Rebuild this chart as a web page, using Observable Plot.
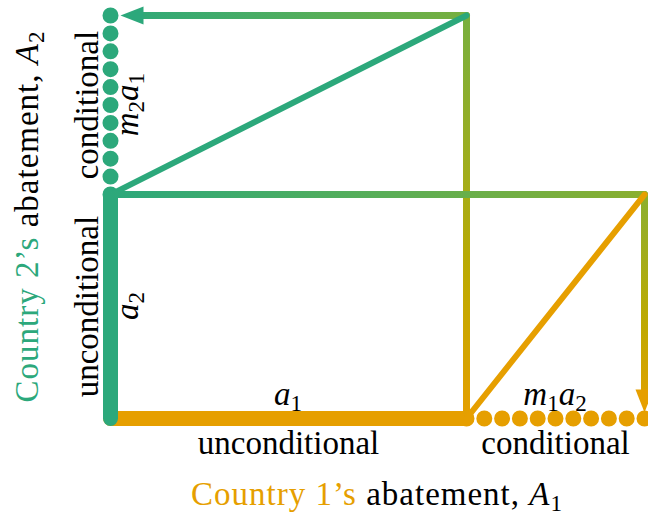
<!DOCTYPE html>
<html><head><meta charset="utf-8">
<script src="https://cdn.jsdelivr.net/npm/d3@7"></script>
<script src="https://cdn.jsdelivr.net/npm/@observablehq/plot@0.6"></script>
<style>body{margin:0;background:#fff}</style>
</head><body><div id="chart"></div><script>
// ---- data ----
const countries = ["Country 1’s", "Country 2’s"];
const axisWords = " abatement, ";
const axisSymbols = ["A", "A"];
const indices = ["1", "2"];
const kinds = ["unconditional", "conditional"];
const unconditional = [2, 1.25];   // a1, a2
const multipliers = [0.8, 0.5];    // m1, m2
const unconditionalSymbols = [[["a", "1"]], [["a", "2"]]];
const conditionalSymbols = [[["m", "1"], ["a", "2"]], [["m", "2"], ["a", "1"]]];

// ---- styles ----
const orange = "#e69f00", green = "#2ca87b";
const font = "Liberation Serif";
const fs = 33;

// ---- derived ----
const [a1, a2] = unconditional;
const [m1, m2] = multipliers;
const c1 = m1 * a2, c2 = m2 * a1;
const X = a1 + c1, Y = a2 + c2;
const ramp = d3.interpolateHcl(orange, green);

const gradients = [
  {id: "gA1", x1: a1, y1: 0, x2: a1, y2: Y, from: 0, to: 0.55},
  {id: "gA2", x1: a1, y1: Y, x2: 0, y2: Y, from: 0.55, to: 1},
  {id: "gB1", x1: 0, y1: a2, x2: X, y2: a2, from: 1, to: 0.45},
  {id: "gB2", x1: X, y1: a2, x2: X, y2: 0, from: 0.45, to: 0}
];

function defsMark(index, scales) {
  const {x, y} = scales;
  const defs = d3.create("svg:defs");
  for (const g of gradients) {
    const lg = defs.append("linearGradient").attr("id", g.id).attr("gradientUnits", "userSpaceOnUse")
      .attr("x1", x(g.x1)).attr("y1", y(g.y1)).attr("x2", x(g.x2)).attr("y2", y(g.y2));
    for (let k = 0; k <= 10; ++k)
      lg.append("stop").attr("offset", k / 10).attr("stop-color", ramp(g.from + (g.to - g.from) * k / 10));
  }
  return defs.node();
}

function rich(parent, parts, px, py, rotate) {
  const t = parent.append("text")
    .attr("transform", `translate(${px},${py}) rotate(${rotate})`)
    .attr("text-anchor", "middle")
    .attr("font-family", font);
  let shifted = false;
  for (const p of parts) {
    const s = t.append("tspan").text(p.text);
    if (p.italic) s.attr("font-style", "italic");
    if (p.color) s.attr("fill", p.color);
    if (p.sub) {
      s.attr("font-size", "0.7em");
      if (!shifted) { s.attr("dy", 6); shifted = true; }
    } else if (shifted) { s.attr("dy", -6); shifted = false; }
  }
  return t;
}
function mathParts(sym) {
  return sym.flatMap(([v, i]) => [{text: v, italic: true}, {text: i, sub: true}]);
}

function labelsMark(index, scales, values, dims) {
  const {x, y} = scales;
  const g = d3.create("svg:g").attr("font-family", font).attr("font-size", fs).attr("fill", "black");
  rich(g, mathParts(unconditionalSymbols[0]), x(a1 / 2), y(0) - 13, 0);
  rich(g, mathParts(conditionalSymbols[0]), x(a1 + c1 / 2), y(0) - 13, 0);
  rich(g, mathParts(unconditionalSymbols[1]), x(0) + 28, y(a2 / 2), -90);
  rich(g, mathParts(conditionalSymbols[1]), x(0) + 28, y(a2 + c2 / 2), -90);
  const cx = (dims.marginLeft + dims.width - dims.marginRight) / 2;
  const cy = (dims.marginTop + dims.height - dims.marginBottom) / 2;
  const title = (i, color) => [{text: countries[i], color}, {text: axisWords}, {text: axisSymbols[i], italic: true}, {text: indices[i], sub: true}];
  rich(g, title(0, orange), cx, dims.height - 12, 0).attr("letter-spacing", 1);
  rich(g, title(1, green), 38, cy, -90).attr("letter-spacing", 1);
  return g.node();
}

const arrowSymbol = {draw(ctx) { ctx.moveTo(0, 0); ctx.lineTo(-9, 23); ctx.lineTo(9, 23); ctx.closePath(); }};

const wordsX = [{text: kinds[0], x: a1 / 2, y: 0}, {text: kinds[1], x: a1 + c1 / 2, y: 0}];
const wordsY = [{text: kinds[0], x: 0, y: a2 / 2}, {text: kinds[1], x: 0, y: a2 + c2 / 2}];

const link = (d, o) => Plot.link([d], {x1: "x1", y1: "y1", x2: "x2", y2: "y2", strokeLinecap: "round", ...o});
const arrow = (d, o) => Plot.arrow([d], {x1: "x1", y1: "y1", x2: "x2", y2: "y2", headLength: 0, strokeLinecap: "round", ...o});

const chart = Plot.plot({
  width: 648, height: 517,
  marginLeft: 110, marginRight: 4, marginTop: 15, marginBottom: 99,
  x: {domain: [0, X], axis: null},
  y: {domain: [0, Y], axis: null},
  marks: [
    defsMark,
    // conditional (dotted)
    link({x1: 0, y1: Y, x2: 0, y2: a2}, {stroke: green, strokeWidth: 16, strokeDasharray: "0 17.9"}),
    link({x1: X, y1: 0, x2: a1, y2: 0}, {stroke: orange, strokeWidth: 16, strokeDasharray: "0 17.8"}),
    // unconditional (thick)
    link({x1: 0, y1: 0, x2: a1, y2: 0}, {stroke: orange, strokeWidth: 15}),
    link({x1: 0, y1: 0, x2: 0, y2: a2}, {stroke: green, strokeWidth: 15}),
    // response path of country 2
    link({x1: a1, y1: 0, x2: a1, y2: Y}, {stroke: "url(#gA1)", strokeWidth: 7}),
    arrow({x1: a1, y1: Y, x2: 0, y2: Y}, {stroke: "url(#gA2)", strokeWidth: 7, insetEnd: 25}),
    Plot.dot([{x: 0, y: Y}], {x: "x", y: "y", symbol: arrowSymbol, rotate: -90, dx: 10, fill: green, stroke: "none"}),
    link({x1: 0, y1: a2, x2: a1, y2: Y}, {stroke: green, strokeWidth: 6}),
    // response path of country 1
    link({x1: 0, y1: a2, x2: X, y2: a2}, {stroke: "url(#gB1)", strokeWidth: 7}),
    arrow({x1: X, y1: a2, x2: X, y2: 0}, {stroke: "url(#gB2)", strokeWidth: 7, insetEnd: 20}),
    Plot.dot([{x: X, y: 0}], {x: "x", y: "y", symbol: arrowSymbol, rotate: 180, dy: -6, fill: orange, stroke: "none"}),
    link({x1: a1, y1: 0, x2: X, y2: a2}, {stroke: orange, strokeWidth: 6}),
    // words
    Plot.text(wordsX, {x: "x", y: "y", text: "text", dy: 25, fontSize: fs, fontFamily: font, fill: "black"}),
    Plot.text(wordsY, {x: "x", y: "y", text: "text", rotate: -90, dx: -23, fontSize: fs, fontFamily: font, fill: "black"}),
    labelsMark
  ]
});
chart.style.background = "white";
chart.style.overflow = "visible";
chart.querySelectorAll("text").forEach((t) => t.style.fontFamily = "'Liberation Serif', serif");
document.getElementById("chart").append(chart);
</script></body></html>
